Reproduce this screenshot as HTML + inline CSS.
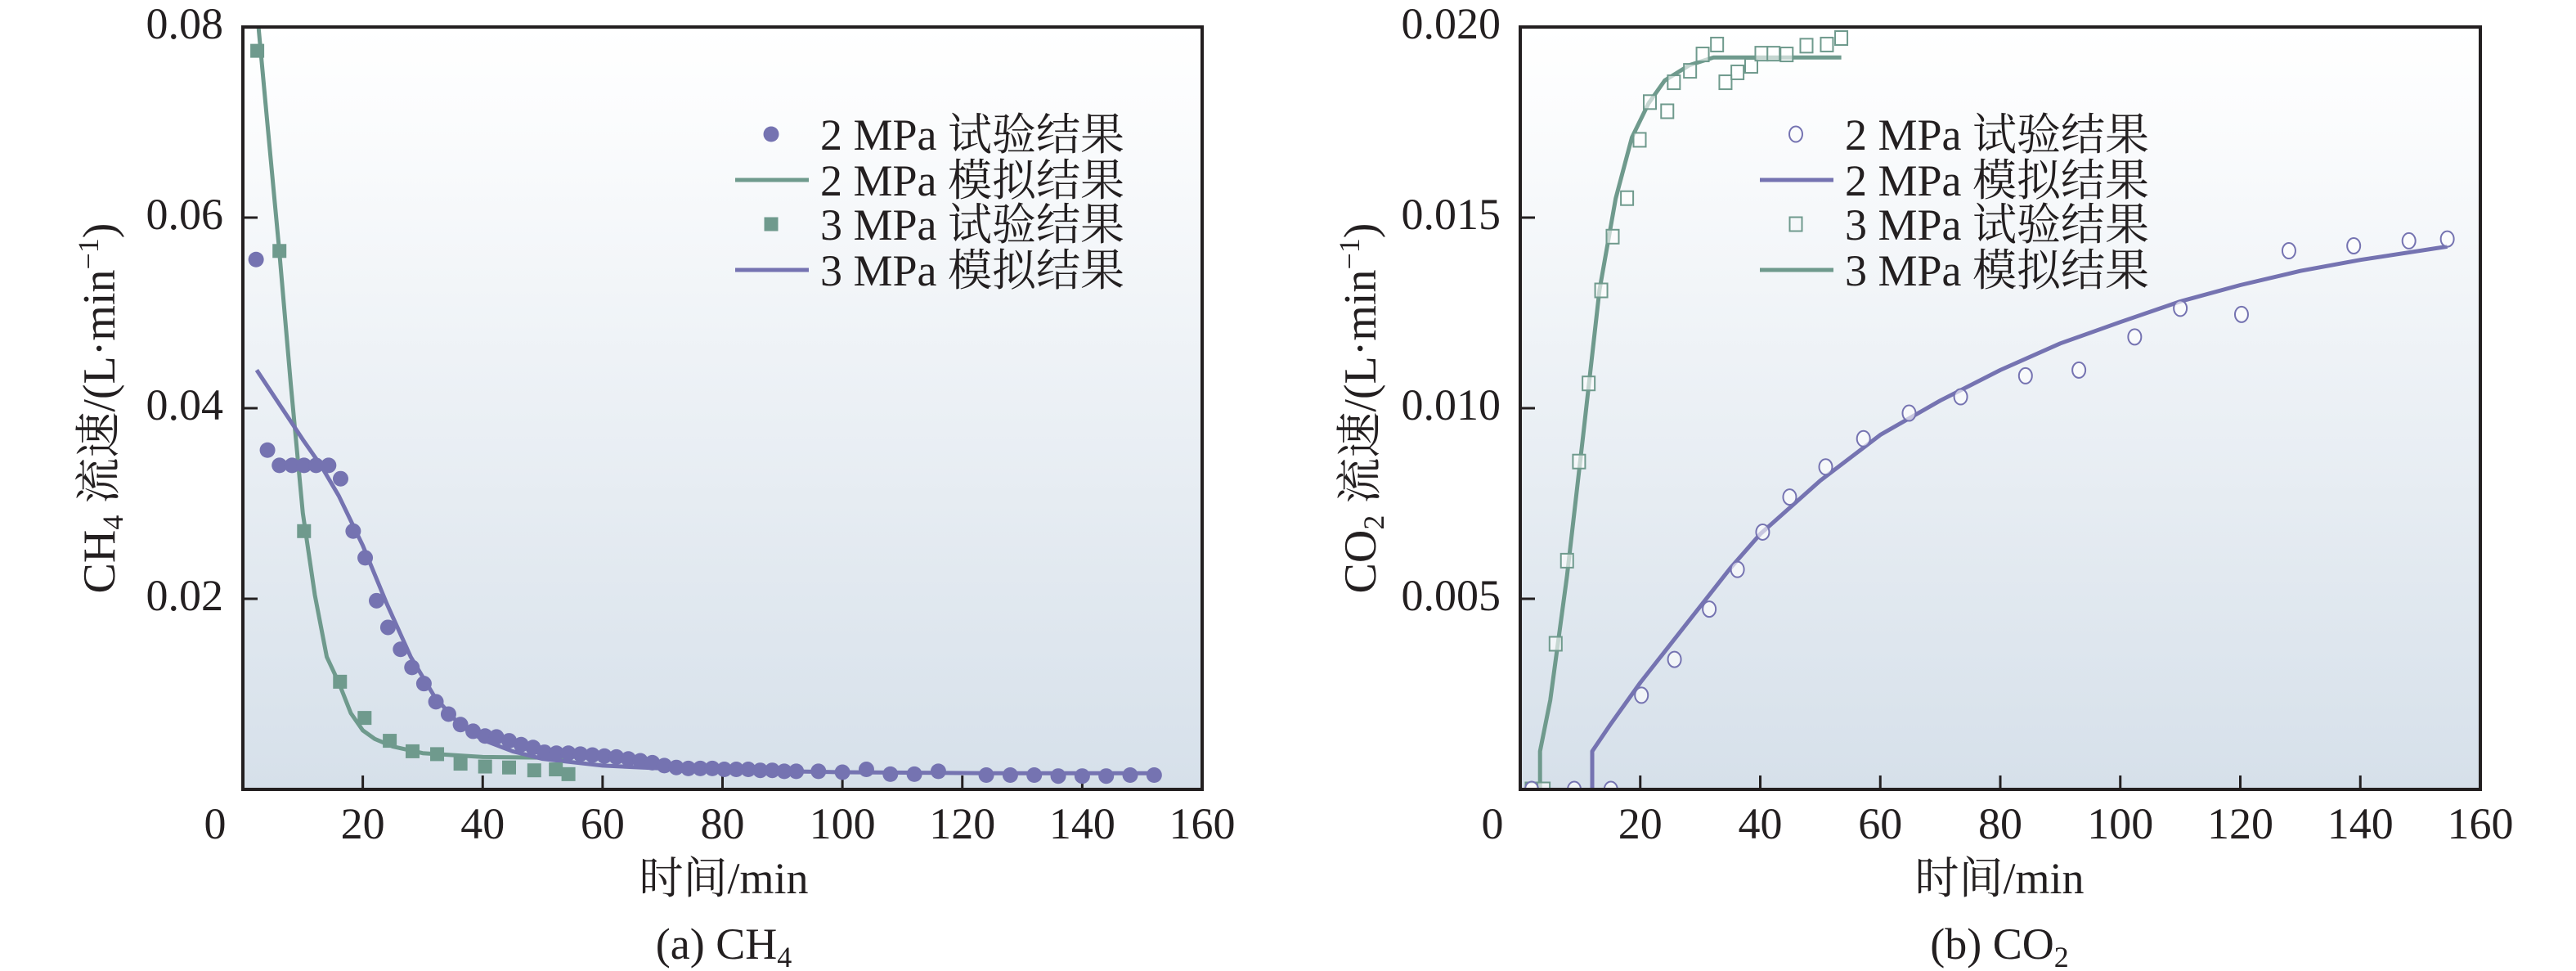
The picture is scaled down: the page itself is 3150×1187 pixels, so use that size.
<!DOCTYPE html>
<html><head><meta charset="utf-8"><style>
html,body{margin:0;padding:0;background:#fff;}
svg{display:block;}
text{font-family:"Liberation Serif","Noto Serif CJK SC","Noto Sans CJK SC",serif;fill:#231f20;}
</style></head><body>
<svg id="svg" width="3150" height="1187" viewBox="0 0 3150 1187" xmlns="http://www.w3.org/2000/svg">
<defs>
<linearGradient id="bg" x1="0" y1="0" x2="0" y2="1">
<stop offset="0" stop-color="#ffffff"/><stop offset="0.12" stop-color="#fbfcfd"/><stop offset="1" stop-color="#d6e0ea"/>
</linearGradient>
</defs>
</svg>
<script>
// ---- Panel (a) CH4 data ----
const aExp2X=[2.2,4.1,6.1,8.2,10.2,12.2,14.3,16.3,18.4,20.4,22.3,24.2,26.3,28.2,30.2,32.2,34.3,36.3,38.4,40.4,42.3,44.4,46.4,48.4,50.3,52.3,54.3,56.3,58.3,60.3,62.3,64.3,66.3,68.3,70.3,72.3,74.3,76.3,78.3,80.3,82.3,84.3,86.3,88.3,90.3,92.3,96,100,104,108,112,116,124,128,132,136,140,144,148,152];
const aExp2Y=[0.0556,0.0356,0.034,0.034,0.034,0.034,0.034,0.0326,0.0271,0.0243,0.0198,0.017,0.0147,0.0128,0.0111,0.0092,0.0079,0.0068,0.0061,0.0056,0.0055,0.0051,0.0047,0.0044,0.0039,0.0038,0.0038,0.0037,0.0036,0.0035,0.0034,0.0032,0.003,0.0028,0.0025,0.0023,0.0022,0.0022,0.0022,0.0021,0.0021,0.0021,0.002,0.002,0.0019,0.0019,0.0019,0.0018,0.0021,0.0016,0.0016,0.0019,0.0015,0.0015,0.0015,0.0014,0.0014,0.0014,0.0015,0.0015];
const aExp3X=[2.4,6.1,10.2,16.2,20.3,24.5,28.3,32.4,36.3,40.4,44.4,48.6,52.2,54.3];
const aExp3Y=[0.0775,0.0565,0.0271,0.0113,0.0075,0.0051,0.004,0.0037,0.0027,0.0024,0.0023,0.002,0.0021,0.0016];
const aSim2X=[2.6,4,6,8,10,12,14,16,18,20,22,25,30,40,55];
const aSim2Y=[0.08,0.0705,0.057,0.0425,0.029,0.0204,0.0139,0.0112,0.008,0.0062,0.0053,0.0045,0.0038,0.0034,0.0033];
const aSim3X=[2.3,6,10,13,16,20,24,28,32,36,40,45,50,60,70,80,100,125,152];
const aSim3Y=[0.044,0.0405,0.0367,0.034,0.0308,0.0256,0.0195,0.0139,0.0097,0.0069,0.0052,0.004,0.0032,0.0025,0.0022,0.002,0.0018,0.0017,0.0017];
const aYTicks=[0.02,0.04,0.06,0.08];
const aYTickLabels=["0.02","0.04","0.06","0.08"];
// ---- Panel (b) CO2 data ----
const bExp2X=[1.9,9,15.1,20.2,25.7,31.5,36.2,40.4,44.9,50.9,57.2,64.8,73.4,84.2,93.1,102.4,110,120.2,128.1,138.9,148.1,154.5];
const bExp2Y=[0,0,0,0.00247,0.00341,0.00473,0.00577,0.00675,0.00767,0.00846,0.0092,0.00987,0.0103,0.01085,0.011,0.01187,0.01262,0.01246,0.01413,0.01426,0.01439,0.01444];
const bExp3X=[1.9,3.9,5.9,7.8,9.8,11.4,13.5,15.4,17.8,19.9,21.6,24.5,25.6,28.3,30.4,32.8,34.2,36.2,38.5,40.2,42.2,44.4,47.7,51.1,53.5];
const bExp3Y=[0,0,0.00382,0.006,0.0086,0.01065,0.01309,0.0145,0.01551,0.01704,0.01803,0.01779,0.01855,0.01885,0.01928,0.01954,0.01855,0.01881,0.01898,0.0193,0.0193,0.01928,0.01951,0.01954,0.01971];
const bSim2X=[12,12,15,20,25,30,35,40,50,60,70,80,90,100,110,120,130,140,154.5];
const bSim2Y=[0,0.001,0.0017,0.0028,0.0038,0.0048,0.0058,0.0067,0.0081,0.0093,0.0102,0.011,0.0117,0.01226,0.0128,0.01323,0.0136,0.01389,0.01424];
const bSim3X=[3.3,3.3,5,7.8,10.5,13.2,15.9,18.6,21.4,24.1,28.2,32.2,37.7,53.5];
const bSim3Y=[0,0.001,0.00234,0.0056,0.0093,0.0131,0.0155,0.0171,0.018,0.0186,0.019,0.0192,0.0192,0.0192];
const bYTicks=[0.005,0.01,0.015,0.02];
const bYTickLabels=["0.005","0.010","0.015","0.020"];
const xTicks=[0,20,40,60,80,100,120,140,160];

const PURPLE="#7573b1", GREEN="#6f9a8d";
const NS="http://www.w3.org/2000/svg";
const svg=document.getElementById('svg');
function mk(tag,attrs,parent){const e=document.createElementNS(NS,tag);for(const k in attrs)e.setAttribute(k,attrs[k]);(parent||svg).appendChild(e);return e;}

function panel(o){
  const g=mk('g',{});
  
  
  const L=o.left,R=o.right,T=33,B=965;
  const sx=v=>L+(v-0)/160*(R-L);
  const sy=v=>B-v/o.ymax*(B-T);
  const bg=mk('rect',{x:L,y:T,width:R-L,height:B-T,fill:'url(#bg)'},g);
  
  
  xTicks.forEach(t=>{
    if(t>0&&t<160){const tk=mk('line',{x1:sx(t),x2:sx(t),y1:B,y2:B-17,stroke:'#231f20','stroke-width':3},g);
      
      }
    const lx=t===0?L-34:sx(t);
    const tl=mk('text',{x:lx,y:1025,'font-size':54,'text-anchor':'middle'},g);
    tl.textContent=t;
    
    
  });
  o.yt.forEach((t,i)=>{
    if(t<o.ymax){const tk=mk('line',{x1:L,x2:L+18,y1:sy(t),y2:sy(t),stroke:'#231f20','stroke-width':3},g);
      
      }
    const tl=mk('text',{x:L-24,y:sy(t)+14,'font-size':54,'text-anchor':'end'},g);
    tl.textContent=o.ytl[i];
    
    
  });
  const cid='clip'+o.name;
  const cp=mk('clipPath',{id:cid},g);mk('rect',{x:L,y:T-2,width:R-L,height:B-T+4},cp);
  const pg=mk('g',{'clip-path':'url(#'+cid+')'},g);
  o.series.forEach(s=>{
    if(s.type==='line'){
      const d=s.x.map((v,i)=>(i?'L':'M')+sx(v).toFixed(1)+','+sy(s.y[i]).toFixed(1)).join(' ');
      const p=mk('path',{d:d,fill:'none',stroke:s.color,'stroke-width':5,'stroke-linejoin':'round'},pg);
      
      
    }else{
      s.x.forEach((v,i)=>{
        let m;
        const cx=sx(v),cy=sy(s.y[i]);
        if(s.type==='circle') m=mk('circle',{cx:cx,cy:cy,r:9.5,fill:s.color},pg);
        else if(s.type==='ocircle') m=mk('ellipse',{cx:cx,cy:cy,rx:8,ry:9.5,fill:'#fff','fill-opacity':0.6,stroke:s.color,'stroke-width':2},pg);
        else if(s.type==='square') m=mk('rect',{x:cx-8.5,y:cy-8.5,width:17,height:17,fill:s.color},pg);
        else m=mk('rect',{x:cx-7.5,y:cy-8.5,width:15,height:17,fill:'#fff','fill-opacity':0.6,stroke:s.color,'stroke-width':2},pg);
        
        
      });
    }
  });
  const fr=mk('rect',{x:L,y:T,width:R-L,height:B-T,fill:'none',stroke:'#231f20','stroke-width':4},g);
  
  
  const lg=mk('g',{},g);
  
  
  const rows=[164,220,274,330];
  o.legend.forEach((it,i)=>{
    const y=rows[i];
    const e=mk('g',{},lg);
    
    
    const mx=o.legX;
    if(it.t==='circle') mk('circle',{cx:mx,cy:y,r:9.5,fill:it.c},e);
    else if(it.t==='ocircle') mk('ellipse',{cx:mx,cy:y,rx:8,ry:9.5,fill:'none',stroke:it.c,'stroke-width':2},e);
    else if(it.t==='square') mk('rect',{x:mx-8.5,y:y-8.5,width:17,height:17,fill:it.c},e);
    else if(it.t==='osquare') mk('rect',{x:mx-7.5,y:y-8.5,width:15,height:17,fill:'none',stroke:it.c,'stroke-width':2},e);
    else mk('line',{x1:mx-44,x2:mx+46,y1:y,y2:y,stroke:it.c,'stroke-width':5},e);
    const tx=mk('text',{x:mx+60,y:y+19,'font-size':54},e);
    tx.textContent=it.s;
  });
  const xt=mk('text',{x:o.cx,y:1092,'font-size':54,'text-anchor':'middle'},g);
  xt.textContent='时间/min';
  
  
  const yt=mk('text',{transform:'translate('+o.ytx+',499) rotate(-90)','font-size':56,'text-anchor':'middle'},g);
  yt.innerHTML=o.ytitle;
  
  
  const cap=mk('text',{x:o.cx,y:1172,'font-size':54,'text-anchor':'middle'},g);
  cap.innerHTML=o.cap;
  
  
}

panel({name:'panel-a-ch4',left:297,right:1470,ymax:0.08,yt:aYTicks,ytl:aYTickLabels,cx:885,ytx:140,legX:943,
  ytitle:'CH<tspan font-size="36" dy="10">4</tspan><tspan dy="-10"> 流速/(L·min</tspan><tspan font-size="36" dy="-20">−1</tspan><tspan dy="20">)</tspan>',
  cap:'(a) CH<tspan font-size="36" dy="10">4</tspan>',
  series:[
   {type:'line',x:aSim2X,y:aSim2Y,color:GREEN,nm:'sim-2mpa-line'},
   {type:'line',x:aSim3X,y:aSim3Y,color:PURPLE,nm:'sim-3mpa-line'},
   {type:'square',x:aExp3X,y:aExp3Y,color:GREEN,nm:'exp-3mpa-point'},
   {type:'circle',x:aExp2X,y:aExp2Y,color:PURPLE,nm:'exp-2mpa-point'}],
  legend:[{t:'circle',c:PURPLE,s:'2 MPa 试验结果'},{t:'line',c:GREEN,s:'2 MPa 模拟结果'},{t:'square',c:GREEN,s:'3 MPa 试验结果'},{t:'line',c:PURPLE,s:'3 MPa 模拟结果'}]
});
panel({name:'panel-b-co2',left:1859,right:3033,ymax:0.02,yt:bYTicks,ytl:bYTickLabels,cx:2445,ytx:1682,legX:2196,
  ytitle:'CO<tspan font-size="36" dy="10">2</tspan><tspan dy="-10"> 流速/(L·min</tspan><tspan font-size="36" dy="-20">−1</tspan><tspan dy="20">)</tspan>',
  cap:'(b) CO<tspan font-size="36" dy="10">2</tspan>',
  series:[
   {type:'line',x:bSim3X,y:bSim3Y,color:GREEN,nm:'sim-3mpa-line'},
   {type:'line',x:bSim2X,y:bSim2Y,color:PURPLE,nm:'sim-2mpa-line'},
   {type:'osquare',x:bExp3X,y:bExp3Y,color:GREEN,nm:'exp-3mpa-point'},
   {type:'ocircle',x:bExp2X,y:bExp2Y,color:PURPLE,nm:'exp-2mpa-point'}],
  legend:[{t:'ocircle',c:PURPLE,s:'2 MPa 试验结果'},{t:'line',c:PURPLE,s:'2 MPa 模拟结果'},{t:'osquare',c:GREEN,s:'3 MPa 试验结果'},{t:'line',c:GREEN,s:'3 MPa 模拟结果'}]
});
</script>
</body></html>
